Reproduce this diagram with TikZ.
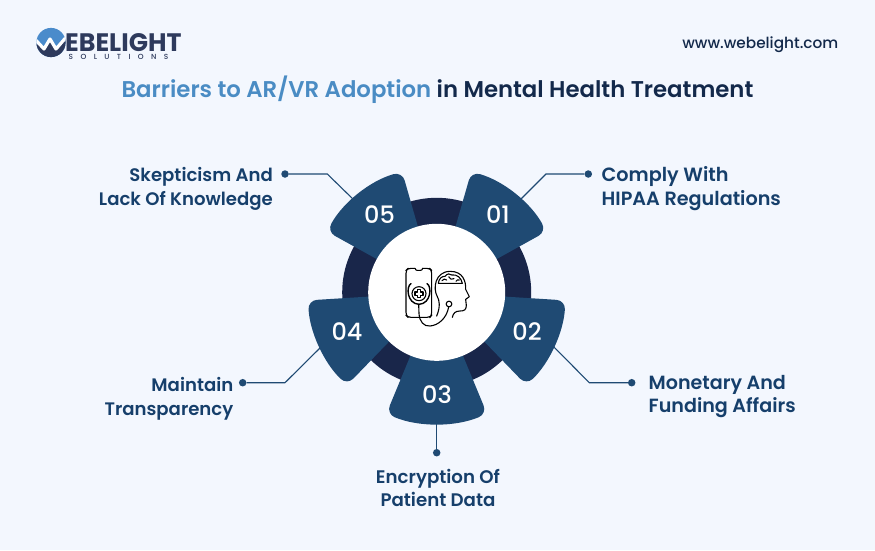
\documentclass[tikz,border=0pt]{standalone}
\usepackage{fontspec}
\setmainfont{Poppins}[BoldFont={Poppins SemiBold}]
\newfontfamily\popmed{Poppins Medium}
\newfontfamily\popxb{Poppins Bold}
\newfontfamily\popsp{Poppins Medium}[LetterSpace=100]
\definecolor{bgc}{HTML}{F3F7FE}
\definecolor{petal}{HTML}{1F4A73}
\definecolor{ringc}{HTML}{19264A}
\definecolor{tblue}{HTML}{4A8CC4}
\definecolor{tdark}{HTML}{13294B}
\definecolor{lab}{HTML}{163F6B}
\definecolor{lblue}{HTML}{4A8BCB}
\definecolor{ldark}{HTML}{2E3A5C}
\newcommand{\lfs}[1]{\bfseries\fontsize{#1}{23.5}\selectfont}
\tikzset{
  x=1pt,y=1pt,
  lbl/.style={text=lab,inner sep=0pt,align=left,anchor=west},
  lblr/.style={text=lab,inner sep=0pt,align=right,anchor=east},
  num/.style={font=\popmed\fontsize{24}{24}\selectfont,text=white,inner sep=0pt},
  dotn/.style={circle,fill=petal,inner sep=0pt,minimum size=7.5pt},
  conn/.style={draw=petal,line width=1.1pt},
  petalf/.style={fill=petal,rounded corners=9pt},
  icon/.style={draw=black,line width=1.1pt,line cap=round,line join=round}
}
\begin{document}
\begin{tikzpicture}
\useasboundingbox (0,0) rectangle (875,-550);
\fill[bgc] (0,0) rectangle (875,-550);
% logo
\begin{scope}
\clip (51,-42.5) circle (14.6);
\fill[lblue] (35,-26) rectangle (67,-60);
\fill[ldark] (33,-41) -- (44,-49) -- (50,-39) -- (56,-49) -- (68,-37) -- (68,-60) -- (33,-60) -- cycle;
\draw[white,line width=3.2pt,line join=round] (33,-37) -- (44,-49) -- (50,-39) -- (56,-49) -- (68,-35);
\end{scope}
\node[font=\popxb\fontsize{25.3}{25}\selectfont,text=ldark,inner sep=0pt,anchor=base west] (logotext) at (65,-51) {EBELIGHT};
\node[font=\popsp\fontsize{7.4}{8}\selectfont,text=ldark,inner sep=0pt,anchor=base west] (logosub) at (68.5,-59.5) {SOLUTIONS};
\node[font=\popmed\fontsize{15.3}{15}\selectfont,text=tdark,inner sep=0pt,anchor=base east] (url) at (838.5,-48.5) {www.webelight.com};
\node[font=\bfseries\fontsize{22.8}{23}\selectfont,inner sep=0pt,anchor=base] (title) at (437.5,-97) {\textcolor{tblue}{Barriers to AR/VR Adoption} \textcolor{tdark}{in Mental Health Treatment}};
% wheel
\begin{scope}[shift={(436.7,-292.3)}]
\fill[ringc] (0,0) circle (94.5);
\fill[petalf] (29:40) -- (29:125.5) arc[start angle=29,end angle=74,radius=125.5] -- (74:40) -- cycle;
\fill[petalf] (-46:40) -- (-46:129) arc[start angle=-46,end angle=-3.6,radius=129] -- (-3.6:40) -- cycle;
\fill[petalf] (247.5:40) -- (247.5:131.5) arc[start angle=247.5,end angle=292.5,radius=131.5] -- (292.5:40) -- cycle;
\fill[petalf] (183.6:40) -- (183.6:129) arc[start angle=183.6,end angle=226,radius=129] -- (226:40) -- cycle;
\fill[petalf] (106:40) -- (106:125.5) arc[start angle=106,end angle=151,radius=125.5] -- (151:40) -- cycle;
\fill[white] (0,0) circle (68.5);
\end{scope}
\node[num] (n01) at (498,-214.5) {01};
\node[num] (n02) at (527,-331.5) {02};
\node[num] (n03) at (437,-394.5) {03};
\node[num] (n04) at (347,-331.5) {04};
\node[num] (n05) at (379.5,-214.5) {05};
% connectors
\node[dotn] (d01) at (588.3,-174) {};
\node[dotn] (d02) at (631.7,-382.7) {};
\node[dotn] (d03) at (436.7,-452.7) {};
\node[dotn] (d04) at (242.7,-382.7) {};
\node[dotn] (d05) at (285,-174) {};
\coordinate (e01) at (546,-174);
\coordinate (t01) at (518,-202);
\coordinate (e02) at (589.3,-382.7);
\coordinate (t02) at (552,-345);
\coordinate (t03) at (436.7,-422);
\coordinate (e04) at (285,-382.7);
\coordinate (t04) at (321,-347);
\coordinate (e05) at (327.3,-174);
\coordinate (t05) at (356,-202);
\draw[conn] (d01) -- (e01) -- (t01);
\draw[conn] (d02) -- (e02) -- (t02);
\draw[conn] (d03) -- (t03);
\draw[conn] (d04) -- (e04) -- (t04);
\draw[conn] (d05) -- (e05) -- (t05);
% labels
\node[lbl,font=\lfs{19.2}] (l01) at (601.5,-188.5) {Comply With\\HIPAA Regulations};
\node[lbl,font=\lfs{19.1}] (l02) at (648.5,-396.5) {Monetary And\\Funding Affairs};
\node[text=lab,inner sep=0pt,align=center,font=\lfs{18.2}] (l03) at (438,-488) {Encryption Of\\Patient Data};
\node[lblr,font=\lfs{18.1}] (l04) at (233.5,-399) {Maintain\\Transparency};
\node[lblr,font=\lfs{18.1}] (l05) at (273,-189) {Skepticism And\\Lack Of Knowledge};
% icon, in 3x zoom units from (400,260)
\begin{scope}[shift={(400,-260)},x=0.3333pt,y=-0.3333pt]
\draw[icon,rounded corners=3pt] (45,25) -- (24,25) -- (18,31) -- (18,166) -- (24,172) -- (90,172) -- (95,166) -- (95,31) -- (89,25) -- (68,25);
\draw[icon] (45,25) .. controls (47,31) and (49,31) .. (52,31) -- (61,31) .. controls (65,31) and (66,30) .. (68,25);
% stethoscope
\draw[icon,line width=1.4pt] (33,71) .. controls (18,78) and (20,131) .. (57,133) .. controls (94,131) and (96,78) .. (81,71);
\draw[icon] (57,101) circle (21);
\draw[icon] (52,89) -- (62,89) -- (62,96) -- (69,96) -- (69,106) -- (62,106) -- (62,113) -- (52,113) -- (52,106) -- (45,106) -- (45,96) -- (52,96) -- cycle;
\draw[icon] (56,133) -- (57,160) .. controls (58,185) and (72,200) .. (90,198) .. controls (115,196) and (140,175) .. (146,141);
\draw[icon] (147,132) circle (8.5);
% head
\draw[icon] (110,168) .. controls (122,140) and (118,120) .. (112,110) .. controls (98,85) and (105,35) .. (150,34) .. controls (190,34) and (198,65) .. (197,88) -- (208,110) -- (197,118) -- (199,136) .. controls (199,150) and (192,153) .. (180,153) .. controls (165,153) and (160,160) .. (157,172);
% brain
\draw[icon] (115,70) .. controls (116,56) and (126,48) .. (135,49) .. controls (142,40) and (150,40) .. (156,45) .. controls (170,42) and (184,53) .. (187,70) -- cycle;
\draw[icon] (126,62) .. controls (130,56) and (136,56) .. (140,60);
\draw[icon] (146,50) .. controls (150,58) and (156,60) .. (162,56);
\draw[icon] (168,64) .. controls (170,60) and (174,58) .. (178,60);
\end{scope}
\end{tikzpicture}
\end{document}
